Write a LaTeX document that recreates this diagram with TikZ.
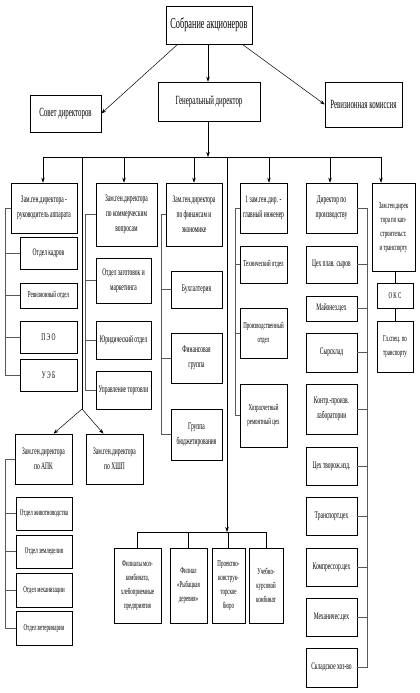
\documentclass[tikz,border=0pt]{standalone}
\usepackage{fontspec}
\setmainfont{Liberation Serif}[FakeStretch=0.55]
\usepackage{tikz}
\usetikzlibrary{arrows.meta}
\newcommand{\orgbox}[7][]{\node[box,#1,minimum width={(#5-#3)*1pt},minimum height={(#6-#4)*1pt}] (#2) at ({(#3+#5)/2},{(#4+#6)/2}) {#7};}

\begin{document}
\begin{tikzpicture}[
  x=1pt,y=-1pt,
  every node/.style={align=center},
  box/.style={draw,line width=0.6pt,inner sep=0.5pt,font=\fontsize{10}{15}\selectfont},
  big/.style={font=\fontsize{12.5}{15}\selectfont},
  small/.style={font=\fontsize{9}{14}\selectfont},
  arr/.style={-{Stealth[length=5pt,width=3.5pt]},line width=0.5pt},
  link/.style={line width=0.5pt},
  spine/.style={draw=black!65,line width=0.8pt}
]
\fill[white] (0,0) rectangle (420,693);
\useasboundingbox (0,0) rectangle (420,693);

\orgbox[font=\fontsize{15}{18}\selectfont]{sobr}{166}{6}{252}{44}{Собрание акционеров}
\orgbox[big]{sovet}{30}{95}{101}{132}{Совет директоров}
\orgbox[big]{gendir}{158}{82}{260}{121}{Генеральный директор}
\orgbox[big]{reviz}{325}{82}{402}{127}{Ревизионная комиссия}

\orgbox{h1}{11}{183}{77}{233}{Зам.ген.директора -\\руководитель аппарата}
\orgbox{c11}{20}{237}{77}{269}{Отдел кадров}
\orgbox[small]{c12}{20}{283}{77}{308}{Ревизионный отдел}
\orgbox{c13}{20}{321}{77}{353}{П Э О}
\orgbox{c14}{20}{359}{77}{391}{У Э Б}

\orgbox{h2}{96}{183}{157}{246}{Зам.ген.директора\\по коммерческим\\вопросам}
\orgbox{c21}{96}{258}{151}{303}{Отдел заготовок и\\маркетинга}
\orgbox{c22}{96}{321}{151}{359}{Юридический отдел}
\orgbox{c23}{96}{371}{151}{409}{Управление торговли}

\orgbox{h3}{166}{183}{222}{246}{Зам.ген.директора\\по финансам и\\экономике}
\orgbox{c31}{171}{271}{222}{308}{Бухгалтерия}
\orgbox{c32}{171}{333}{222}{383}{Финансовая\\группа}
\orgbox{c33}{171}{409}{222}{460}{Группа\\бюджетирования}

\orgbox{h5}{240}{183}{287}{233}{1 зам.ген.дир. -\\главный инженер}
\orgbox[small]{c51}{240}{246}{287}{283}{Технический отдел}
\orgbox[small]{c52}{240}{308}{287}{358}{Производственный\\отдел}
\orgbox[small]{c53}{240}{384}{287}{447}{Хозрасчетный\\ремонтный цех}

\orgbox{h6}{306}{183}{357}{233}{Директор по\\производству}
\orgbox{d1}{306}{246}{357}{283}{Цех плав. сыров}
\orgbox{d2}{306}{296}{357}{321}{Майонез.цех}
\orgbox{d3}{306}{333}{357}{372}{Сырсклад}
\orgbox{d4}{306}{384}{357}{434}{Контр.-произв.\\лаборатории}
\orgbox{d5}{306}{447}{357}{485}{Цех творож.изд.}
\orgbox{d6}{306}{497}{357}{535}{Транспорт.цех}
\orgbox{d7}{306}{548}{357}{586}{Компрессор.цех}
\orgbox{d8}{306}{598}{357}{636}{Механичес.цех}
\orgbox{d9}{306}{648}{357}{687}{Складское хоз-во}

\orgbox[small]{h7}{372}{183}{415}{271}{Зам.ген.дирек\\тора по кап-\\строительст.\\и транспорту}
\orgbox[small]{oks}{377}{283}{413}{308}{О К С}
\orgbox[small]{glsp}{377}{321}{413}{372}{Гл.спец. по\\транспорту}

\orgbox{apk}{15}{434}{72}{484}{Зам.ген.директора\\по АПК}
\orgbox{hshp}{86}{434}{143}{484}{Зам.ген.директора\\по ХШП}
\orgbox[small]{a1}{16}{497}{72}{530}{Отдел животноводства}
\orgbox[small]{a2}{16}{535}{72}{568}{Отдел земледелия}
\orgbox[small]{a3}{16}{573}{72}{607}{Отдел механизации}
\orgbox[small]{a4}{16}{611}{72}{645}{Отдел ветеринарии}

\orgbox[small]{b1}{114}{548}{161}{623}{Филиалы мол-\\комбината,\\хлебоприемные\\предприятия}
\orgbox[small]{b2}{170}{548}{207}{623}{Филиал\\«Рыбацкая\\деревня»}
\orgbox[small]{b3}{212}{548}{245}{623}{Проектно-\\конструк-\\торское\\бюро}
\orgbox[small]{b4}{249}{548}{283}{623}{Учебно-\\курсовой\\комбинат}

\coordinate (bus) at (208,157);
\draw[arr] ([xshift=12]sobr.south west) -- (sovet.east);
\draw[arr] (sobr.south -| bus) -- (gendir.north -| bus);
\draw[arr] ([xshift=-10]sobr.south east) -- (reviz.west);
\draw[arr] (gendir.south -| bus) -- (bus);
\draw[link] (43,157) -- (381,157);
\foreach \n/\x in {h1/43,h2/124,h3/194,h5/269,h6/330,h7/381}
  \draw[arr] (\x,157) -- (\x,157 |- \n.north);

\draw[link] (82,157) -- (82,409) coordinate (split);
\draw[arr] (split) -- ([xshift=10]apk.north);
\draw[arr] (split) -- ([xshift=-11]hshp.north);

\coordinate (fork) at (227,532);
\draw[link] (b1.north |- fork) -- (b4.north |- fork);
\foreach \b in {b1,b2,b3,b4}
  \draw[link] (\b.north |- fork) -- (\b.north);
\draw[arr] (227,157) -- (fork);

\draw[spine] (h1.west) -- ++(-5,0) |- (c14.west);
\foreach \c in {c11,c12,c13} \draw[spine] (\c.west) -- ++(-14,0);
\draw[spine] (h2.west) -- ++(-10,0) |- (c23.west);
\foreach \c in {c21,c22} \draw[spine] (\c.west) -- ++(-10,0);
\draw[spine] (h3.west) -- ++(-4,0) |- (c33.west);
\foreach \c in {c31,c32} \draw[spine] (\c.west) -- ++(-9,0);
\draw[spine] (h5.west) -- ++(-4,0) |- (c53.west);
\foreach \c in {c51,c52} \draw[spine] (\c.west) -- ++(-4,0);
\draw[spine] (h6.east) -- ++(10,0) |- (d9.east);
\foreach \c in {d1,d2,d3,d4,d5,d6,d7,d8} \draw[spine] (\c.east) -- ++(10,0);
\draw[spine] (apk.west) -- ++(-9,0) |- (a4.west);
\foreach \c in {a1,a2,a3} \draw[spine] (\c.west) -- ++(-10,0);

\draw[link] (oks.north |- h7.south) -- (oks.north);
\draw[link] (oks.south) -- (glsp.north);
\end{tikzpicture}
\end{document}
